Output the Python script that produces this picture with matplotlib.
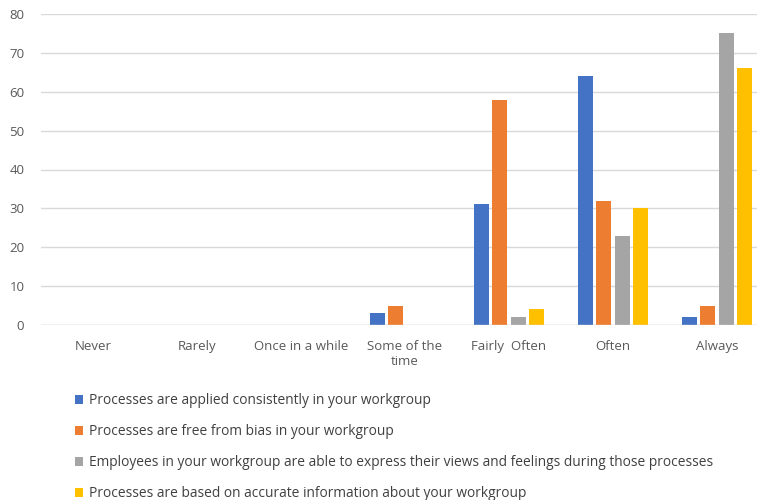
import numpy as np
import matplotlib.pyplot as plt
from matplotlib.patches import Patch

categories = ["Never", "Rarely", "Once in a while", "Some of the\ntime",
              "Fairly  Often", "Often", "Always"]
series_names = [
    "Processes are applied consistently in your workgroup",
    "Processes are free from bias in your workgroup",
    "Employees in your workgroup are able to express their views and feelings during those processes",
    "Processes are based on accurate information about your workgroup",
]
consistent = [0, 0, 0, 3, 31, 64, 2]
free_bias = [0, 0, 0, 5, 58, 32, 5]
express_views = [0, 0, 0, 0, 2, 23, 75]
accurate_info = [0, 0, 0, 0, 4, 30, 66]
colors = ["#4472c4", "#ed7d31", "#a5a5a5", "#ffc000"]

plt.rcParams['font.family'] = ['Open Sans', 'DejaVu Sans']

fig = plt.figure(figsize=(7.57, 5.0), dpi=100)
# plot area runs a little past the right edge of the canvas
ax = fig.add_axes([41 / 757, 1 - 325 / 500, 728 / 757, 311 / 500])

x = np.arange(len(categories))
slot = 0.178
for i, vals in enumerate([consistent, free_bias, express_views, accurate_info]):
    ax.bar(x + (i - 1.5) * slot, vals, width=0.148, color=colors[i],
           zorder=3, linewidth=0)

ax.set_xlim(-0.5, len(categories) - 0.5)
ax.set_ylim(0, 80)
ax.set_yticks(range(0, 81, 10))
ax.grid(axis='y', color='#d9d9d9', linewidth=1, zorder=0)
for s in ax.spines.values():
    s.set_visible(False)
ax.axhline(0, color='#d9d9d9', linewidth=1, zorder=4)
ax.set_xticks(x)
ax.set_xticklabels(categories, fontsize=9.5, color='#595959', linespacing=1.2,
                   va='top')
ax.tick_params(axis='x', length=0, pad=11)
ax.tick_params(axis='y', length=0, pad=12, labelsize=9.5, labelcolor='#595959')

handles = [Patch(facecolor=c, edgecolor='none') for c in colors]
fig.legend(handles, series_names, loc='upper left',
           bbox_to_anchor=(75 / 757, 1 - 393 / 500), frameon=False,
           fontsize=9.9, labelcolor='#404040', handlelength=0.6,
           handleheight=0.6, handletextpad=0.4, labelspacing=1.17,
           borderaxespad=0, borderpad=0)

fig.savefig("out.png", dpi=100)
